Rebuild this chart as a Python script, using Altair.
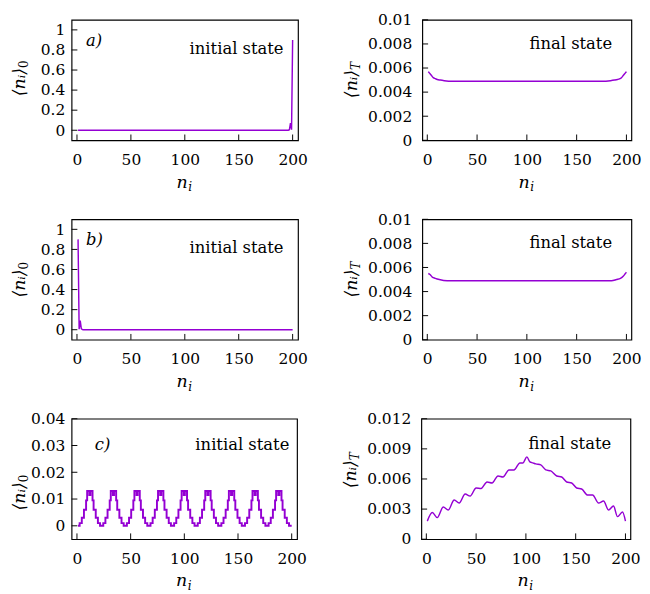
import altair as alt
import pandas as pd

FONT = "DejaVu Serif"
PURPLE = "#9400D3"
X_DOM = [-5, 205]
X_TICKS = [0, 50, 100, 150, 200]
H = 125

# ---------------- data ----------------
sites = list(range(1, 201))

# a) initial state: particle at the right edge
a_init = [0.0] * 196 + [0.005, 0.07, 0.005, 0.9]
# b) initial state: particle at the left edge
b_init = [0.9, 0.005, 0.09, 0.01, 0.002] + [0.0] * 195
# c) initial state: periodic step-like profile (rows = periods)
c_init = (
    [0, 0, 0.001, 0.001, 0.003, 0.003, 0.006, 0.006, 0.0095, 0.013, 0.013, 0.0115, 0.013, 0.013, 0.0095, 0.006, 0.006, 0.003, 0.003, 0.001, 0.001]
    + [0, 0, 0, 0.001, 0.001, 0.003, 0.003, 0.006, 0.006, 0.0095, 0.013, 0.013, 0.0115, 0.013, 0.013, 0.0095, 0.006, 0.006, 0.003, 0.003, 0.001, 0.001]
    + [0, 0, 0, 0.001, 0.001, 0.003, 0.003, 0.006, 0.006, 0.0095, 0.013, 0.013, 0.0115, 0.013, 0.013, 0.0095, 0.006, 0.006, 0.003, 0.003, 0.001, 0.001]
    + [0, 0, 0, 0.001, 0.001, 0.003, 0.003, 0.006, 0.006, 0.0095, 0.013, 0.013, 0.0115, 0.013, 0.013, 0.0095, 0.006, 0.006, 0.003, 0.003, 0.001, 0.001]
    + [0, 0, 0, 0.001, 0.001, 0.003, 0.003, 0.006, 0.006, 0.0095, 0.013, 0.013, 0.0115, 0.013, 0.013, 0.0095, 0.006, 0.006, 0.003, 0.003, 0.001, 0.001]
    + [0, 0, 0, 0.001, 0.001, 0.003, 0.003, 0.006, 0.006, 0.0095, 0.013, 0.013, 0.0115, 0.013, 0.013, 0.0095, 0.006, 0.006, 0.003, 0.003, 0.001, 0.001]
    + [0, 0, 0, 0.001, 0.001, 0.003, 0.003, 0.006, 0.006, 0.0095, 0.013, 0.013, 0.0115, 0.013, 0.013, 0.0095, 0.006, 0.006, 0.003, 0.003, 0.001, 0.001]
    + [0, 0, 0, 0.001, 0.001, 0.003, 0.003, 0.006, 0.006, 0.0095, 0.013, 0.013, 0.0115, 0.013, 0.013, 0.0095, 0.006, 0.006, 0.003, 0.003, 0.001, 0.001]
    + [0, 0, 0, 0.001, 0.001, 0.003, 0.003, 0.006, 0.006, 0.0095, 0.013, 0.013, 0.0115, 0.013, 0.013, 0.0095, 0.006, 0.006, 0.003, 0.003, 0.001, 0.001]
    + [0, 0, 0]
)

# final states (time averages), read at key sites
a_fin_n = [1, 2, 4, 6, 8, 10, 13, 17, 25, 50, 100, 150, 175, 184, 188, 191, 193, 195, 197, 199, 200]
a_fin_v = [0.0057, 0.0056, 0.0054, 0.0052, 0.00512, 0.00505, 0.0050, 0.00495, 0.0049, 0.0049, 0.0049,
           0.0049, 0.0049, 0.00495, 0.0050, 0.00505, 0.0051, 0.0052, 0.0054, 0.0056, 0.0057]
b_fin_n = [1, 3, 5, 8, 12, 20, 50, 100, 150, 185, 190, 194, 197, 199, 200]
b_fin_v = [0.0055, 0.0054, 0.0052, 0.0051, 0.0050, 0.0049, 0.0049, 0.0049, 0.0049, 0.0049,
           0.0050, 0.0051, 0.0053, 0.0055, 0.0056]
c_fin_n = [1, 6, 11, 17, 22, 28, 33, 39, 44, 50, 55, 61, 66, 72, 77, 83, 88, 94, 97, 101,
           104, 107, 110, 115, 120, 125, 131, 136, 141, 146, 151, 156, 162, 167, 173, 178, 183,
           188, 192, 197, 200]
c_fin_v = [0.0018, 0.00265, 0.00215, 0.0032, 0.0029, 0.0039, 0.0036, 0.0045, 0.0043, 0.0051,
           0.00505, 0.0057, 0.0056, 0.0063, 0.0062, 0.0069, 0.0069, 0.0076, 0.0076, 0.0082,
           0.0077, 0.0076, 0.0075, 0.0074, 0.0069, 0.0068, 0.0063, 0.0062, 0.0057, 0.0056,
           0.0051, 0.0050, 0.0044, 0.0044, 0.0036, 0.0038, 0.0029, 0.0033, 0.00225, 0.0027, 0.0018]

Y_INIT_AB = [0, 0.2, 0.4, 0.6, 0.8, 1]
Y_INIT_C = [0, 0.01, 0.02, 0.03, 0.04]
Y_FIN_AB = [0, 0.002, 0.004, 0.006, 0.008, 0.01]
Y_FIN_C = [0, 0.003, 0.006, 0.009, 0.012]


def panel(n, v, width, y_dom, y_ticks, interp, lab_pad, sw,
          letter, letter_xy, state, state_xy, sub, sub_italic, title_xb, title_yj):
    data = pd.DataFrame({"n": n, "v": v})
    xs = alt.Scale(domain=X_DOM, nice=False, zero=False)
    ys = alt.Scale(domain=y_dom, nice=False, zero=False)
    xax = alt.Axis(values=X_TICKS, format="~r", title=None, ticks=False, tickSize=0,
                   domain=False, grid=False, labelPadding=12, labelFlush=False,
                   labelFont=FONT, labelFontSize=16, labelColor="black")
    yax = alt.Axis(values=y_ticks, format="~r", title=None, ticks=False, tickSize=0,
                   domain=False, grid=False, labelPadding=lab_pad, labelFlush=False,
                   labelFont=FONT, labelFontSize=16, labelColor="black")
    line = alt.Chart(data).mark_line(
        color=PURPLE, strokeWidth=sw, interpolate=interp, clip=True
    ).encode(
        x=alt.X("n:Q", scale=xs, axis=xax, title=None),
        y=alt.Y("v:Q", scale=ys, axis=yax, title=None),
    )
    yt = alt.Chart(pd.DataFrame({"v": y_ticks})).mark_rule(color="black", strokeWidth=1).encode(
        y=alt.Y("v:Q", scale=ys, axis=yax, title=None), x=alt.value(0), x2=alt.value(6))
    xt = alt.Chart(pd.DataFrame({"n": X_TICKS})).mark_rule(color="black", strokeWidth=1).encode(
        x=alt.X("n:Q", scale=xs, axis=xax, title=None), y=alt.value(H), y2=alt.value(H - 6))
    layers = [line, yt, xt]
    if letter:
        layers.append(alt.Chart(pd.DataFrame({"s": [letter]})).mark_text(
            font=FONT, fontSize=17, fontStyle="italic", align="left", baseline="alphabetic",
            color="black").encode(text="s:N", x=alt.value(letter_xy[0]), y=alt.value(letter_xy[1])))
    layers.append(alt.Chart(pd.DataFrame({"s": [state]})).mark_text(
        font=FONT, fontSize=17, align="right", baseline="alphabetic", color="black"
    ).encode(text="s:N", x=alt.value(state_xy[0]), y=alt.value(state_xy[1])))
    # y title  <n_i>_sub  (rotated)
    layers.append(alt.Chart(pd.DataFrame({"s": ["⟨nᵢ⟩"]})).mark_text(
        font=FONT, fontSize=18, fontStyle="italic", angle=270, align="right",
        baseline="alphabetic", color="black"
    ).encode(text="s:N", x=alt.value(title_xb), y=alt.value(title_yj)))
    layers.append(alt.Chart(pd.DataFrame({"s": [sub]})).mark_text(
        font=FONT, fontSize=12.5, fontStyle="italic" if sub_italic else "normal", angle=270,
        align="left", baseline="alphabetic", color="black"
    ).encode(text="s:N", x=alt.value(title_xb + 3), y=alt.value(title_yj)))
    # x title n_i
    xj = width / 2 + 3
    layers.append(alt.Chart(pd.DataFrame({"s": ["n"]})).mark_text(
        font=FONT, fontSize=18, fontStyle="italic", align="right", baseline="alphabetic",
        color="black").encode(text="s:N", x=alt.value(xj), y=alt.value(H + 49)))
    layers.append(alt.Chart(pd.DataFrame({"s": ["i"]})).mark_text(
        font=FONT, fontSize=12.5, fontStyle="italic", align="left", baseline="alphabetic",
        color="black").encode(text="s:N", x=alt.value(xj + 0.5), y=alt.value(H + 53)))
    return alt.layer(*layers).properties(width=width, height=H)


pa0 = panel(sites, a_init, 235, [-0.1, 1.1], Y_INIT_AB, "linear", 7, 1.5,
            "a)", (15, 27), "initial state", (220, 35), "0", False, -48, 50)
paT = panel(a_fin_n, a_fin_v, 217, [0, 0.01], Y_FIN_AB, "monotone", 11, 1.5,
            None, None, "final state", (197, 30), "T", True, -68, 52)
pb0 = panel(sites, b_init, 235, [-0.1, 1.1], Y_INIT_AB, "linear", 7, 1.5,
            "b)", (15, 27), "initial state", (220, 35), "0", False, -48, 52)
pbT = panel(b_fin_n, b_fin_v, 217, [0, 0.01], Y_FIN_AB, "monotone", 11, 1.5,
            None, None, "final state", (197, 30), "T", True, -68, 52)
pc0 = panel(sites, c_init, 234, [-0.005, 0.04], Y_INIT_C, "step", 7, 2,
            "c)", (24, 32), "initial state", (226, 32), "0", False, -48, 66)
pcT = panel(c_fin_n, c_fin_v, 217, [0, 0.012], Y_FIN_C, "monotone", 11, 1.5,
            None, None, "final state", (197, 31), "T", True, -68, 43)

row1 = alt.hconcat(pa0, paT, spacing=35)
row2 = alt.hconcat(pb0, pbT, spacing=35)
row3 = alt.hconcat(pc0, pcT, spacing=35)

chart = alt.vconcat(row1, row2, row3, spacing=16).properties(
    padding={"left": 3, "top": -8, "right": 0, "bottom": 0}
).configure(background="white").configure_view(stroke="black", strokeWidth=1.2)

chart.save("out.html", embed_options={"renderer": "svg", "actions": False})
